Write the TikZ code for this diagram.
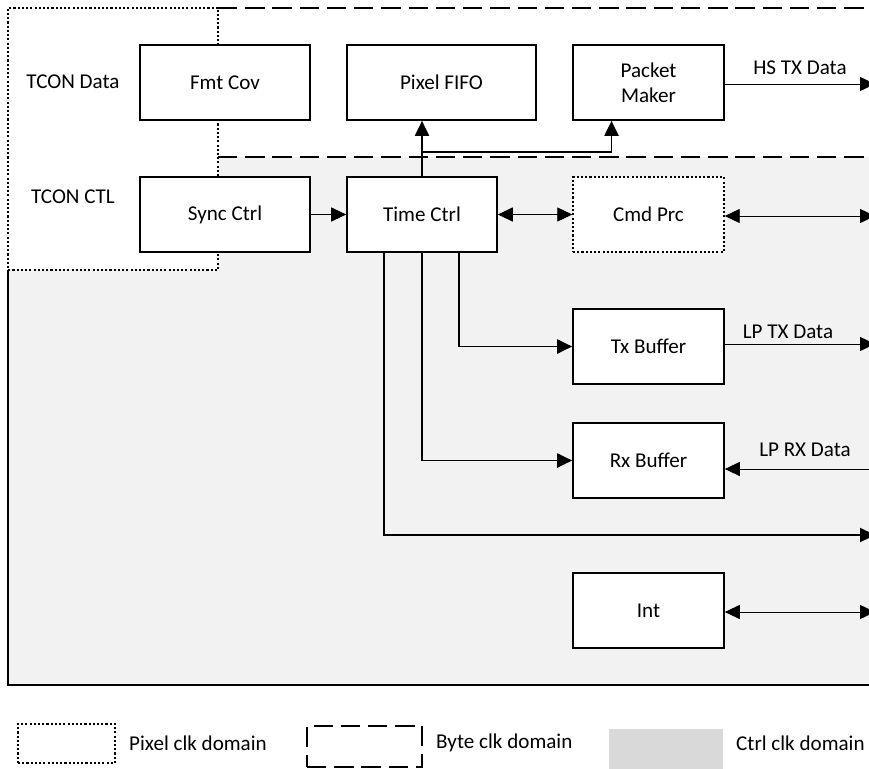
\documentclass[tikz,border=0pt]{standalone}
\usepackage{fontspec}
\setmainfont{Carlito}
\usetikzlibrary{arrows.meta, positioning}
\definecolor{ctrlgray}{HTML}{F2F2F2}
\definecolor{keygray}{HTML}{D9D9D9}

\begin{document}
\begin{tikzpicture}[x=0.02cm, y=-0.02cm, font=\fontsize{12}{14}\selectfont,
  blk/.style={draw, line width=1pt, fill=white, minimum width=3.02cm, minimum height=1.5cm, align=center},
  thinarr/.style={line width=0.5pt, -{Triangle[length=8.5pt,width=8pt]}},
  twoarr/.style={line width=0.5pt, {Triangle[length=8.5pt,width=8pt]}-{Triangle[length=8.5pt,width=8pt]}},
  brarr/.style={line width=1pt, -{Triangle[length=8.5pt,width=8pt]}},
  pixdom/.style={line width=0.9pt, dash pattern=on 1.2pt off 1.2pt},
  bytedom/.style={line width=0.9pt, dash pattern=on 11pt off 4.5pt}]
  \useasboundingbox (0,0) rectangle (869,768);

  % clock domains
  \fill[ctrlgray] (218,157) -- (869,157) -- (869,685) -- (8,685) -- (8,270) -- (218,270) -- cycle;
  \draw[line width=1pt] (8,270) -- (8,685) -- (869,685);
  \draw[pixdom] (218,8) -- (8,8) -- (8,270) -- (218,270) -- cycle;
  \draw[bytedom] (218,8) -- (875,8);
  \draw[bytedom] (218,157) -- (875,157);

  % blocks
  \node[blk, minimum width=3.4cm] (fmt) at (225,82.5) {Fmt Cov};
  \node[blk, minimum width=3.78cm] (pfifo) at (441.5,82.5) {Pixel FIFO};
  \node[blk] (pmk) at (648.5,82.5) {Packet\\Maker};
  \node[blk, minimum width=3.4cm] (sync) at (225,214.5) {Sync Ctrl};
  \node[blk, minimum width=3cm] (tctl) at (422,214.5) {Time Ctrl};
  \node[blk, pixdom] (cmd) at (648.5,214.5) {Cmd Prc};
  \node[blk] (txb) at (648.5,346.5) {Tx Buffer};
  \node[blk] (rxb) at (648.5,460.5) {Rx Buffer};
  \node[blk] (intr) at (648.5,610.5) {Int};

  \node (tcondata) at (73,82) {TCON Data};
  \node (tconctl) at (73,197) {TCON CTL};

  % outer ends
  \coordinate (hsout) at (875,84);
  \coordinate (cmdout) at (875,216);
  \coordinate (lptxout) at (875,344);
  \coordinate (lprxin) at (875,469);
  \coordinate (ctlout) at (875,535);
  \coordinate (intout) at (875,612);
  \coordinate (split) at (422,152);

  % connections
  \draw[thinarr] (sync) -- (tctl);
  \draw[brarr] (tctl.north) -- (tctl.north |- pfifo.south);
  \draw[brarr] (split) -| ([xshift=-0.74cm]pmk.south);
  \draw[twoarr] (tctl) -- (cmd);
  \draw[twoarr] (cmd.east |- cmdout) -- (cmdout);
  \draw[thinarr] (pmk.east |- hsout) -- node[above=2pt] (hslbl) {HS TX Data} (hsout);
  \draw[brarr] ([xshift=0.74cm]tctl.south) |- (txb.west);
  \draw[brarr] (tctl.south) |- (rxb.west);
  \draw[brarr] ([xshift=-0.76cm]tctl.south) |- (ctlout);
  \draw[thinarr] (txb.east |- lptxout) -- (lptxout);
  \node (lptxlbl) at (788,332) {LP TX Data};
  \draw[thinarr] (lprxin) -- (rxb.east |- lprxin);
  \node (lprxlbl) at (805,450) {LP RX Data};
  \draw[twoarr] (intr.east |- intout) -- (intout);

  % legend
  \node[pixdom, draw, minimum width=1.94cm, minimum height=0.78cm] (keypix) at (66.5,743.5) {};
  \node[anchor=west] (keypixlbl) at (123,743) {Pixel clk domain};
  \node[bytedom, draw, minimum width=2.3cm, minimum height=0.82cm] (keybyte) at (364.5,746.5) {};
  \node[anchor=west] (keybytelbl) at (430,743) {Byte clk domain};
  \fill[keygray] (609,729) rectangle (723,775);
  \node[anchor=west] (keyctllbl) at (730,743) {Ctrl clk domain};
\end{tikzpicture}
\end{document}
